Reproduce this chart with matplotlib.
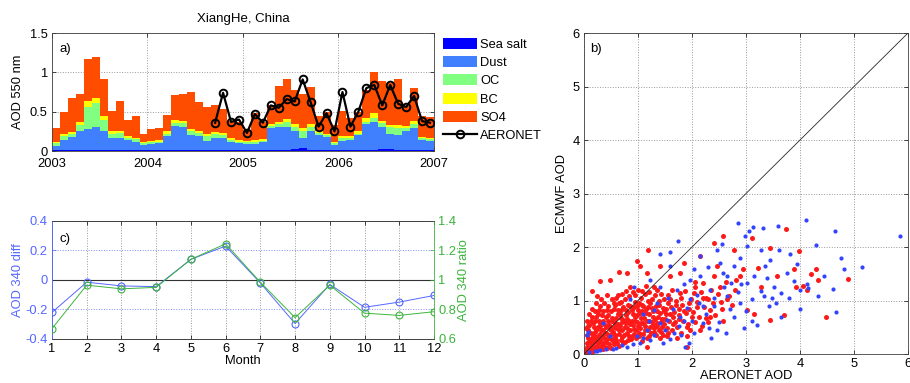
import numpy as np
import matplotlib
matplotlib.use('Agg')
import matplotlib.pyplot as plt
from matplotlib.patches import Patch
from matplotlib.lines import Line2D
from matplotlib.ticker import FormatStrFormatter

plt.rcParams['font.family'] = ['Liberation Sans', 'DejaVu Sans']
plt.rcParams['font.size'] = 9.3

# ---- panel a: monthly stacked AOD components, Jan 2003 - Dec 2006
year_ticks = [2003, 2004, 2005, 2006, 2007]
sea_salt = [0.01, 0.01, 0.01, 0.01, 0.01, 0.01, 0.01, 0.01, 0.01, 0.01, 0.01, 0.01,
            0.01, 0.01, 0.01, 0.01, 0.01, 0.01, 0.01, 0.01, 0.01, 0.01, 0.01, 0.01,
            0.01, 0.01, 0.01, 0.01, 0.01, 0.01, 0.03, 0.04, 0.01, 0.01, 0.01, 0.01,
            0.01, 0.01, 0.01, 0.01, 0.01, 0.02, 0.02, 0.01, 0.01, 0.01, 0.01, 0.01]
dust = [0.06, 0.13, 0.17, 0.24, 0.27, 0.29, 0.25, 0.16, 0.16, 0.13, 0.11, 0.07,
        0.08, 0.09, 0.18, 0.31, 0.30, 0.19, 0.18, 0.12, 0.16, 0.15, 0.11, 0.09,
        0.08, 0.08, 0.10, 0.28, 0.29, 0.29, 0.22, 0.13, 0.24, 0.19, 0.17, 0.07,
        0.12, 0.13, 0.19, 0.33, 0.36, 0.29, 0.20, 0.19, 0.24, 0.28, 0.13, 0.12]
oc = [0.03, 0.05, 0.03, 0.08, 0.28, 0.31, 0.13, 0.05, 0.06, 0.03, 0.03, 0.02,
      0.02, 0.02, 0.03, 0.04, 0.04, 0.05, 0.04, 0.06, 0.04, 0.04, 0.02, 0.02,
      0.02, 0.03, 0.02, 0.03, 0.04, 0.07, 0.06, 0.08, 0.06, 0.03, 0.02, 0.02,
      0.04, 0.02, 0.02, 0.03, 0.05, 0.05, 0.08, 0.09, 0.04, 0.05, 0.02, 0.02]
bc = [0.02, 0.03, 0.03, 0.04, 0.08, 0.07, 0.05, 0.03, 0.03, 0.02, 0.02, 0.01,
      0.02, 0.02, 0.03, 0.03, 0.03, 0.03, 0.03, 0.03, 0.03, 0.03, 0.02, 0.02,
      0.02, 0.02, 0.02, 0.02, 0.03, 0.04, 0.03, 0.04, 0.03, 0.02, 0.02, 0.02,
      0.02, 0.03, 0.03, 0.05, 0.06, 0.02, 0.03, 0.04, 0.03, 0.04, 0.02, 0.02]
so4 = [0.17, 0.28, 0.44, 0.36, 0.53, 0.51, 0.48, 0.26, 0.38, 0.20, 0.27, 0.11,
       0.15, 0.15, 0.21, 0.32, 0.34, 0.47, 0.36, 0.34, 0.34, 0.31, 0.22, 0.23,
       0.14, 0.34, 0.22, 0.25, 0.46, 0.51, 0.43, 0.44, 0.47, 0.20, 0.28, 0.21,
       0.32, 0.23, 0.24, 0.36, 0.52, 0.51, 0.54, 0.59, 0.25, 0.42, 0.26, 0.26]
# AERONET monthly means, Sep 2004 - Dec 2006
aeronet_first = 20
aeronet = [0.36, 0.74, 0.37, 0.40,
           0.23, 0.47, 0.36, 0.58, 0.55, 0.66, 0.63, 0.91, 0.62, 0.31, 0.48, 0.25,
           0.75, 0.31, 0.50, 0.80, 0.84, 0.58, 0.84, 0.60, 0.56, 0.70, 0.38, 0.36]

# ---- panel c: monthly AOD 340 difference and ratio
months = list(range(1, 13))
aod340_diff = [-0.22, -0.015, -0.04, -0.045, 0.14, 0.23, -0.02, -0.295, -0.03, -0.185, -0.15, -0.105]
aod340_ratio = [0.67, 0.965, 0.94, 0.95, 1.14, 1.245, 0.985, 0.745, 0.965, 0.775, 0.76, 0.785]

# ---- panel b: ECMWF vs AERONET scatter
blue_pts = [(2.86, 2.45), (4.12, 2.51), (3.59, 2.40), (4.64, 2.29), (5.86, 2.21), (4.30, 2.04),
            (4.75, 1.79), (5.15, 1.63), (4.82, 1.58), (4.62, 1.22), (4.66, 0.79), (4.33, 1.08),
            (4.00, 0.84), (3.13, 2.37), (3.31, 2.36), (3.05, 2.29), (3.82, 1.86), (3.61, 1.95),
            (3.27, 1.95), (1.60, 1.91), (1.74, 2.12), (1.41, 1.86), (0.85, 1.02), (0.36, 0.58),
            (2.96, 0.49), (3.11, 0.61), (3.64, 0.70), (3.43, 0.89), (3.88, 1.36), (4.13, 1.30),
            (3.76, 1.51), (3.51, 1.26), (3.27, 1.17), (3.02, 1.33), (2.77, 1.64), (2.52, 1.70),
            (2.65, 1.45), (2.34, 1.20), (2.15, 1.45), (1.97, 1.02), (1.78, 0.70), (1.66, 0.39),
            (1.47, 0.21), (1.87, 0.14), (2.40, 0.89), (2.77, 0.70), (2.46, 0.45), (2.21, 0.58),
            (2.03, 0.39), (1.22, 0.27), (1.04, 0.21), (0.79, 0.14), (0.54, 0.09), (0.24, 0.05),
            (1.41, 0.58), (1.29, 0.83), (1.72, 1.20), (1.97, 1.39), (2.15, 1.83), (2.89, 1.79),
            (3.02, 2.01), (3.36, 1.64), (3.39, 1.42), (3.11, 1.02), (2.89, 0.95), (2.65, 1.08),
            (2.21, 0.89), (1.90, 0.86), (1.53, 0.64), (1.16, 0.45), (0.98, 0.33), (4.00, 1.20),
            (4.15, 1.23), (3.33, 1.08), (3.64, 1.14), (2.46, 1.95), (2.03, 1.58), (1.60, 1.64),
            (1.22, 1.39), (0.92, 1.26), (0.48, 0.33), (2.99, 2.20), (2.55, 2.05), (3.45, 1.75),
            (3.95, 1.68), (4.45, 1.45), (2.30, 1.62), (2.60, 1.25), (2.85, 1.15), (2.10, 1.10),
            (1.85, 1.30), (1.55, 1.05), (1.35, 0.95), (1.20, 0.62), (1.50, 0.45), (1.75, 0.52),
            (2.00, 0.62), (2.25, 0.75), (2.50, 0.60), (2.70, 0.85), (3.00, 0.80), (3.20, 0.55),
            (3.55, 0.95), (3.80, 1.05), (0.10, 0.03), (0.20, 0.06), (0.30, 0.07), (0.40, 0.10),
            (0.60, 0.12), (0.70, 0.16), (0.90, 0.18), (1.10, 0.30), (1.30, 0.35), (1.60, 0.28),
            (1.80, 0.35), (0.05, 0.35), (0.08, 0.42), (2.35, 0.30), (1.95, 0.20), (1.40, 1.25),
            (1.65, 0.85), (2.40, 1.05), (2.90, 1.30), (1.10, 0.75), (2.58, 1.52), (2.72, 1.32),
            (3.15, 1.45), (3.48, 1.05), (2.32, 0.48), (2.62, 0.40), (1.85, 0.62), (2.12, 0.95)]
red_pts = [(3.74, 2.34), (3.12, 2.17), (2.58, 2.20), (2.41, 2.07), (3.99, 1.92), (3.45, 1.98),
           (4.29, 1.59), (4.89, 1.40), (4.34, 1.39), (4.13, 1.20), (3.93, 1.26), (4.48, 0.70),
           (3.44, 0.64), (3.14, 0.74), (3.23, 1.61), (2.77, 1.95), (2.15, 1.83), (1.19, 1.95),
           (0.98, 1.73), (0.64, 1.53), (0.30, 1.36), (0.14, 1.17), (1.90, 0.33), (1.90, 0.13),
           (3.88, 1.58), (2.89, 1.45), (2.46, 1.64), (2.21, 1.33), (2.03, 1.14), (1.78, 1.51),
           (1.60, 1.45), (1.41, 1.64), (1.16, 1.51), (2.65, 1.02), (3.02, 0.83), (2.34, 0.70),
           (2.15, 0.45), (2.52, 1.26), (3.27, 1.26), (3.57, 1.45), (1.60, 1.02), (1.78, 1.14),
           (1.35, 1.20), (1.04, 1.64), (0.79, 1.51), (0.48, 1.39), (0.24, 1.08), (1.53, 0.33),
           (1.16, 0.14), (4.20, 1.50), (4.05, 1.28), (3.70, 0.72), (2.95, 1.58), (2.40, 1.45),
           (2.05, 1.35), (1.85, 1.70), (2.25, 1.05), (2.55, 0.85), (2.80, 1.20),
           (0.05, 0.05), (0.08, 0.12), (0.10, 0.06), (0.12, 0.18), (0.15, 0.10), (0.18, 0.25),
           (0.20, 0.14), (0.22, 0.32), (0.25, 0.20), (0.27, 0.09), (0.30, 0.38), (0.30, 0.26),
           (0.33, 0.16), (0.35, 0.45), (0.37, 0.30), (0.40, 0.22), (0.40, 0.50), (0.42, 0.12),
           (0.45, 0.36), (0.47, 0.55), (0.50, 0.28), (0.50, 0.44), (0.52, 0.62), (0.55, 0.18),
           (0.55, 0.50), (0.58, 0.36), (0.60, 0.68), (0.60, 0.26), (0.62, 0.56), (0.65, 0.44),
           (0.67, 0.75), (0.70, 0.32), (0.70, 0.60), (0.72, 0.20), (0.75, 0.50), (0.77, 0.82),
           (0.80, 0.40), (0.80, 0.66), (0.82, 0.27), (0.85, 0.90), (0.85, 0.56), (0.88, 0.34),
           (0.90, 0.74), (0.92, 0.47), (0.95, 0.98), (0.95, 0.62), (0.97, 0.30), (1.00, 0.82),
           (1.00, 0.52), (1.02, 0.40), (1.05, 1.05), (1.05, 0.68), (1.08, 0.25), (1.10, 0.90),
           (1.10, 0.58), (1.12, 0.45), (1.15, 0.76), (1.18, 1.00), (1.20, 0.34), (1.20, 0.62),
           (1.22, 0.50), (1.25, 0.86), (1.28, 0.70), (1.30, 0.42), (1.32, 1.10), (1.35, 0.58),
           (1.38, 0.92), (1.40, 0.30), (1.40, 0.76), (1.45, 0.50), (1.48, 1.02), (1.50, 0.66),
           (1.52, 0.85), (1.55, 0.40), (1.60, 0.74), (1.62, 1.20), (1.65, 0.56), (1.70, 0.92),
           (1.72, 0.30), (1.75, 0.66), (1.80, 1.05), (1.85, 0.80), (1.90, 0.50), (1.95, 0.95),
           (2.00, 0.70), (2.05, 1.25), (2.10, 0.88), (2.20, 1.05), (2.30, 0.60), (2.35, 1.20),
           (0.10, 0.22), (0.15, 0.30), (0.20, 0.42), (0.25, 0.50), (0.30, 0.58), (0.35, 0.62),
           (0.45, 0.72), (0.50, 0.80), (0.55, 0.85), (0.65, 0.95), (0.75, 1.02), (0.70, 1.12),
           (0.60, 1.05), (0.40, 0.70), (0.28, 0.62), (0.18, 0.50), (0.08, 0.30), (0.05, 0.20),
           (0.12, 0.40), (0.90, 1.15), (1.00, 1.20), (0.85, 1.25), (1.15, 1.28), (1.30, 1.25),
           (0.03, 0.10), (0.06, 0.02), (0.14, 0.04), (0.22, 0.07), (0.35, 0.10), (0.50, 0.12),
           (0.65, 0.15), (0.05, 0.35), (0.07, 0.45), (0.10, 0.55), (0.20, 0.62), (0.25, 0.75),
           (0.35, 0.80), (0.45, 0.90), (0.55, 0.95), (0.30, 0.90), (0.20, 0.80), (0.15, 0.70),
           (0.62, 0.82), (0.72, 0.88), (0.82, 0.78), (0.92, 0.88), (1.02, 0.95), (1.12, 1.12),
           (1.25, 1.02), (1.35, 0.80), (1.45, 0.65), (1.55, 0.95), (1.65, 0.70), (1.75, 0.85),
           (0.38, 0.40), (0.48, 0.46), (0.58, 0.58), (0.68, 0.68), (0.78, 0.58), (0.88, 0.62),
           (0.98, 0.72), (1.08, 0.80), (1.18, 0.88), (1.28, 0.55), (1.38, 0.45), (1.48, 0.80),
           (0.02, 0.03), (0.04, 0.08), (0.06, 0.14), (0.09, 0.09), (0.11, 0.26), (0.13, 0.13),
           (0.16, 0.20), (0.17, 0.36), (0.19, 0.08), (0.21, 0.27), (0.23, 0.45), (0.24, 0.15),
           (0.26, 0.34), (0.28, 0.24), (0.29, 0.52), (0.31, 0.12), (0.32, 0.44), (0.34, 0.33),
           (0.36, 0.21), (0.38, 0.55), (0.39, 0.14), (0.41, 0.40), (0.43, 0.28), (0.44, 0.62),
           (0.46, 0.19), (0.48, 0.50), (0.49, 0.36), (0.51, 0.68), (0.53, 0.25), (0.54, 0.42),
           (0.56, 0.60), (0.57, 0.31), (0.59, 0.48), (0.61, 0.20), (0.63, 0.74), (0.64, 0.38),
           (0.66, 0.53), (0.68, 0.26), (0.69, 0.83), (0.71, 0.45), (0.73, 0.64), (0.74, 0.36),
           (0.76, 0.22), (0.78, 0.72), (0.79, 0.48), (0.81, 0.92), (0.83, 0.34), (0.84, 0.62),
           (0.86, 0.44), (0.87, 0.28), (0.89, 0.82), (0.91, 0.55), (0.93, 0.38), (0.94, 0.70),
           (0.96, 0.45), (0.98, 0.90), (0.99, 0.60), (1.01, 0.33), (1.03, 0.76), (1.04, 0.48),
           (1.06, 0.58), (1.07, 0.92), (1.09, 0.38), (1.11, 0.68), (1.13, 0.52), (1.14, 0.84),
           (1.16, 0.30), (1.17, 0.62), (1.19, 0.44), (1.21, 0.74), (1.23, 0.96), (1.24, 0.40),
           (1.26, 0.60), (1.27, 0.80), (1.29, 0.48), (1.31, 0.66), (1.33, 0.36), (1.34, 0.90),
           (1.36, 0.52), (1.37, 0.70), (1.39, 1.00), (1.42, 0.42), (1.43, 0.60), (1.46, 0.86),
           (1.47, 0.36), (1.49, 0.56), (1.51, 0.74), (1.54, 0.48), (1.56, 1.10), (1.58, 0.62),
           (1.61, 0.88), (1.63, 0.45), (1.66, 0.78), (1.68, 0.60), (1.71, 1.00), (1.73, 0.50),
           (1.76, 0.72), (1.79, 0.40), (1.82, 0.92), (1.84, 0.62), (1.87, 1.18), (1.89, 0.76),
           (1.92, 0.56), (1.94, 0.84), (1.97, 0.45), (1.99, 1.02), (2.02, 0.78), (2.06, 0.60),
           (2.09, 0.98), (2.12, 0.70), (2.16, 1.15), (2.18, 0.52), (2.22, 0.88), (2.26, 0.68),
           (2.29, 1.02), (2.33, 0.82), (2.38, 0.95), (2.43, 0.72), (2.48, 1.12), (2.53, 0.98),
           (2.58, 0.62), (2.62, 1.35), (2.68, 1.08), (2.74, 0.92), (2.82, 1.38), (0.12, 0.62),
           (0.08, 0.52), (0.16, 0.58), (0.22, 0.70), (0.27, 0.82), (0.33, 0.72), (0.37, 0.95),
           (0.42, 0.82), (0.52, 1.02), (0.58, 0.92), (0.63, 1.10), (0.68, 0.98), (0.77, 1.18),
           (0.83, 1.08), (0.95, 1.10), (1.08, 1.18), (1.20, 1.15), (1.42, 1.12), (0.42, 1.10),
           (0.32, 1.02), (0.22, 0.95), (0.15, 0.85), (0.10, 0.75), (0.05, 0.62), (0.03, 0.48)]

blue_c = '#5566ff'
green_c = '#3cb43c'
comp_colors = ['#0000ff', '#4080ff', '#80ff80', '#ffff00', '#ff4d00']
comp_names = ['Sea salt', 'Dust', 'OC', 'BC', 'SO4']


def matlab_axes(ax):
    ax.tick_params(direction='in', length=3, width=0.5, top=True, right=True, pad=3)
    for s in ax.spines.values():
        s.set_linewidth(0.6)
        s.set_color('0.25')


fig = plt.figure(figsize=(9.1, 3.83), dpi=100)

# ---------------- panel a
ax_a = fig.add_axes([0.0571, 0.6057, 0.4198, 0.3081])
t = 2003 + (np.arange(len(dust)) + 0.5) / 12.0
bottom = np.zeros(len(dust))
for vals, col in zip([sea_salt, dust, oc, bc, so4], comp_colors):
    ax_a.bar(t, vals, width=1 / 12.0, bottom=bottom, color=col, edgecolor='none', zorder=2)
    bottom += np.array(vals)
t_aer = t[aeronet_first:aeronet_first + len(aeronet)]
ax_a.plot(t_aer, aeronet, color='black', lw=1.6, marker='o', ms=5.5, mfc='none',
          mec='black', mew=1.4, zorder=3)
ax_a.set_xlim(2003, 2007)
ax_a.set_ylim(0, 1.5)
ax_a.set_xticks(year_ticks)
ax_a.set_yticks([0, 0.5, 1, 1.5])
ax_a.yaxis.set_major_formatter(FormatStrFormatter('%g'))
ax_a.grid(True, linestyle=':', color='0.6', lw=0.7, zorder=0)
ax_a.set_axisbelow(True)
matlab_axes(ax_a)
ax_a.tick_params(axis='x', pad=5)
ax_a.set_ylabel('AOD 550 nm', labelpad=4)
ax_a.set_title('XiangHe, China', fontsize=9.5, pad=8)
ax_a.text(0.02, 0.84, 'a)', transform=ax_a.transAxes, fontsize=9.5)

handles = [Patch(facecolor=c, edgecolor='none', label=n) for c, n in zip(comp_colors, comp_names)]
handles.append(Line2D([], [], color='black', lw=1.6, marker='o', ms=5.5, mfc='none',
                      mec='black', mew=1.4, label='AERONET'))
fig.legend(handles=handles, loc='upper left', bbox_to_anchor=(443 / 910, 1 - 38 / 383),
           frameon=False, borderpad=0, borderaxespad=0, handlelength=2.6,
           handleheight=0.95, handletextpad=0.3, labelspacing=0.4, fontsize=9.3)

# ---------------- panel c
ax_c = fig.add_axes([0.0571, 0.1149, 0.4198, 0.3081])
ax_c.plot(months, aod340_diff, color=blue_c, lw=0.7, marker='o', ms=5, mfc='none',
          mec=blue_c, mew=0.8, zorder=3)
ax_c.axhline(0, color='0.2', lw=0.8, zorder=2)
ax_c.set_xlim(1, 12)
ax_c.set_ylim(-0.4, 0.4)
ax_c.set_xticks(months)
ax_c.set_yticks([-0.4, -0.2, 0, 0.2, 0.4])
ax_c.yaxis.set_major_formatter(FormatStrFormatter('%g'))
ax_c.xaxis.grid(True, linestyle=':', color='0.6', lw=0.7)
ax_c.yaxis.grid(True, linestyle=':', color='#8090ff', lw=0.7)
ax_c.set_axisbelow(True)
matlab_axes(ax_c)
ax_c.tick_params(axis='y', colors=blue_c, right=False)
ax_c.spines['left'].set_color(blue_c)
ax_c.spines['right'].set_visible(False)
ax_c.set_ylabel('AOD 340 diff', color=blue_c, labelpad=1)
ax_c.set_xlabel('Month', labelpad=0)
ax_c.text(0.02, 0.82, 'c)', transform=ax_c.transAxes, fontsize=9.5)

ax_c2 = ax_c.twinx()
ax_c2.plot(months, aod340_ratio, color=green_c, lw=0.7, marker='o', ms=5, mfc='none',
           mec=green_c, mew=0.8, zorder=3)
ax_c2.set_ylim(0.6, 1.4)
ax_c2.set_yticks([0.6, 0.8, 1.0, 1.2, 1.4])
ax_c2.yaxis.set_major_formatter(FormatStrFormatter('%g'))
ax_c2.tick_params(axis='y', direction='in', length=3, width=0.5, colors=green_c, pad=3)
for s in ax_c2.spines.values():
    s.set_linewidth(0.6)
ax_c2.spines['right'].set_color(green_c)
ax_c2.spines['left'].set_color(blue_c)
ax_c2.spines['top'].set_color('0.25')
ax_c2.spines['bottom'].set_color('0.25')
ax_c2.set_ylabel('AOD 340 ratio', color=green_c, labelpad=1)

# ---------------- panel b
ax_b = fig.add_axes([0.6418, 0.0757, 0.356, 0.8381])
bx, by = zip(*blue_pts)
rx, ry = zip(*red_pts)
ax_b.scatter(rx, ry, s=13, color='#ff1a1a', linewidths=0, zorder=2)
ax_b.scatter(bx, by, s=9, color='#3344ff', linewidths=0, zorder=3)
ax_b.plot([0, 6], [0, 6], color='0.15', lw=0.6, zorder=4)
ax_b.set_xlim(0, 6)
ax_b.set_ylim(0, 6)
ax_b.set_xticks(range(7))
ax_b.set_yticks(range(7))
ax_b.grid(True, linestyle=':', color='0.6', lw=0.7, zorder=0)
ax_b.set_axisbelow(True)
matlab_axes(ax_b)
ax_b.set_xlabel('AERONET AOD', labelpad=0)
ax_b.set_ylabel('ECMWF AOD', labelpad=3)
ax_b.text(0.02, 0.94, 'b)', transform=ax_b.transAxes, fontsize=9.5)

fig.savefig('out.png', dpi=100)
